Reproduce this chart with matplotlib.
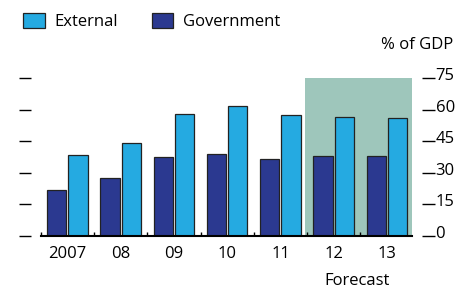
import matplotlib
matplotlib.use("Agg")
import matplotlib.pyplot as plt
from matplotlib.patches import Rectangle
from matplotlib.transforms import ScaledTranslation
import numpy as np

years = ["2007", "08", "09", "10", "11", "12", "13"]
government = [22, 27.5, 37.3, 39, 36.7, 38, 38.1]
external = [38.4, 44, 57.9, 61.5, 57.4, 56.5, 55.9]
yticks = [0, 15, 30, 45, 60, 75]
forecast_start = 4.46

plt.rcParams['font.family'] = ['Open Sans', 'DejaVu Sans']

W, H = 466, 288
fig = plt.figure(figsize=(W/100, H/100), dpi=100)
ax = fig.add_axes([40.7/W, 1-236/H, (412-40.7)/W, (236-78)/H])

x = np.arange(len(years))
ax.set_xlim(-0.5, 6.47)
ax.set_ylim(0, 75)

ax.add_patch(Rectangle((forecast_start, 0), 6.47-forecast_start, 75,
                       facecolor='#9ec6bb', edgecolor='none', zorder=0))

c_ext = '#25aae1'
c_gov = '#2b3990'
bw = 0.36
ax.bar(x-0.2, government, bw, color=c_gov, edgecolor='#222222', linewidth=0.9, zorder=2, label='Government')
ax.bar(x+0.2, external, bw, color=c_ext, edgecolor='#222222', linewidth=0.9, zorder=2, label='External')

for s in ['top', 'left', 'right']:
    ax.spines[s].set_visible(False)
ax.spines['bottom'].set_linewidth(1.5)
ax.spines['bottom'].set_zorder(3)

ax.set_xticks(x)
ax.set_xticklabels(years, fontsize=12)
ax.tick_params(axis='x', length=0, pad=7)
ax.set_xticks(np.arange(-0.5, 6.5, 1), minor=True)
ax.tick_params(axis='x', which='minor', direction='in', length=3, width=1)

ax.set_yticks(yticks)
ax.yaxis.set_ticks_position('both')
ax.tick_params(axis='y', which='major', direction='out', length=9, width=1,
               labelleft=False, labelright=True, labelsize=12, pad=1)
ax.spines['left'].set_position(('outward', 7))
ax.spines['right'].set_position(('outward', 7))
off = ScaledTranslation(0, 4/100, fig.dpi_scale_trans)
for t in ax.yaxis.get_major_ticks():
    t.label2.set_transform(t.label2.get_transform() + off)

fig.text(453/W, 1-45/H, '% of GDP', ha='right', va='center', fontsize=12)
fig.text(357/W, 1-281/H, 'Forecast', ha='center', va='center', fontsize=12)

handles, labels = ax.get_legend_handles_labels()
leg = fig.legend(handles[::-1], labels[::-1], loc='upper left', bbox_to_anchor=(23/W, 1-13/H),
                 ncol=2, frameon=False, fontsize=12, handlelength=1.3, handleheight=1.0,
                 handletextpad=0.6, columnspacing=2.0, borderpad=0, borderaxespad=0)

fig.savefig('out.png', dpi=100)
